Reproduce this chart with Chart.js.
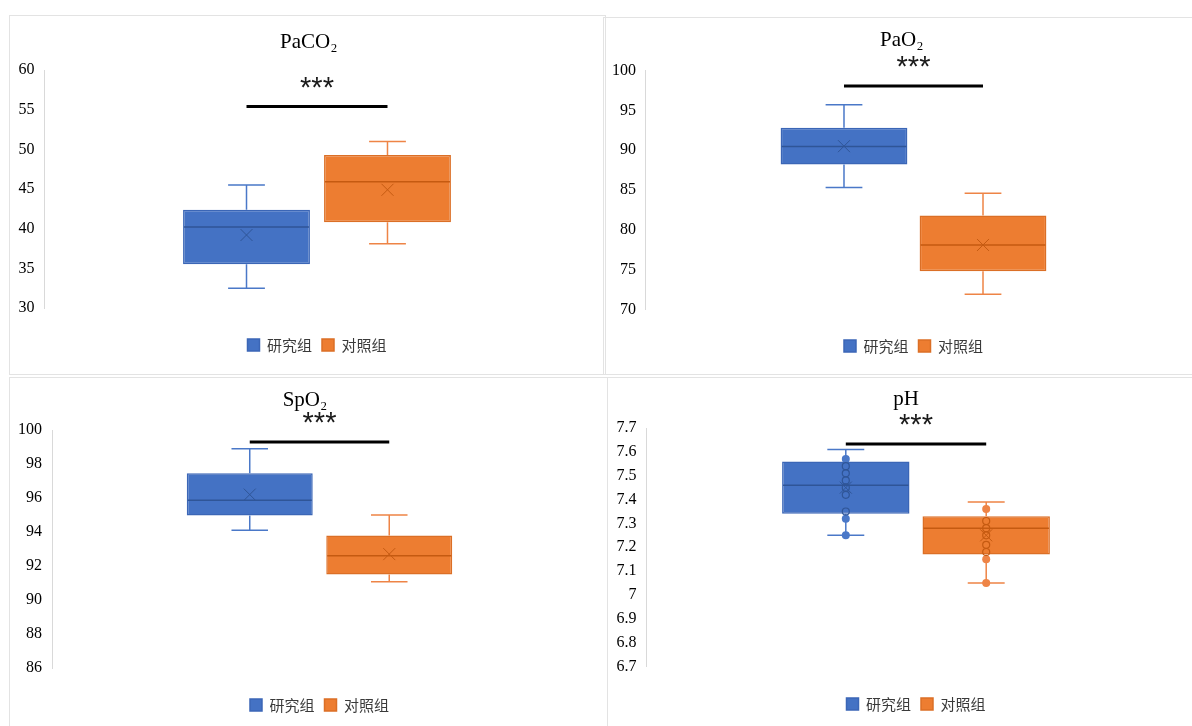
<!DOCTYPE html>
<html><head><meta charset="utf-8">
<script src="https://cdn.jsdelivr.net/npm/chart.js@4.4.1/dist/chart.umd.min.js"></script>
<style>
html,body{margin:0;padding:0;background:#fff;width:1192px;height:726px;overflow:hidden;position:relative}
.panel{position:absolute;border:1px solid #e3e3e3;box-sizing:border-box}
canvas{position:absolute;display:block}
</style></head><body>
<div class="panel" style="left:9px;top:15px;width:597px;height:360px"></div>
<div class="panel" style="left:603px;top:17px;width:591px;height:358px"></div>
<div class="panel" style="left:9px;top:377px;width:599px;height:351px"></div>
<div class="panel" style="left:607px;top:377px;width:588px;height:351px"></div>
<canvas id="c1" width="613" height="357" style="left:10px;top:17px"></canvas>
<canvas id="c2" width="602" height="357" style="left:606px;top:17px"></canvas>
<canvas id="c3" width="610" height="348" style="left:10px;top:378px"></canvas>
<canvas id="c4" width="602" height="348" style="left:608px;top:378px"></canvas>
<script>
// ---------- DATA ----------
const categories = [''];
const groupNames = ['研究组', '对照组'];

// PaCO2
const paco2Min    = [32.5, 38.1];
const paco2Q1     = [35.5, 40.8];
const paco2Median = [40.2, 45.9];
const paco2Q3     = [42.4, 49.3];
const paco2Max    = [45.5, 51.0];
const paco2Mean   = [39.2, 44.9];
const paco2Ticks  = [30, 35, 40, 45, 50, 55, 60];
const paco2Sig    = [55.4, 58.24]; // line value, stars value

// PaO2
const pao2Min    = [85.3, 71.9];
const pao2Q1     = [88.2, 74.8];
const pao2Median = [90.45, 78.1];
const pao2Q3     = [92.8, 81.8];
const pao2Max    = [95.7, 84.6];
const pao2Mean   = [90.5, 78.1];
const pao2Ticks  = [70, 75, 80, 85, 90, 95, 100];
const pao2Sig    = [98.05, 100.93];

// SpO2
const spo2Min    = [94.1, 91.07];
const spo2Q1     = [94.97, 91.5];
const spo2Median = [95.87, 92.6];
const spo2Q3     = [97.45, 93.8];
const spo2Max    = [98.9, 95.0];
const spo2Mean   = [96.2, 92.7];
const spo2Ticks  = [86, 88, 90, 92, 94, 96, 98, 100];
const spo2Sig    = [99.3, 100.63];

// pH
const phMin    = [7.25, 7.05];
const phQ1     = [7.34, 7.17];
const phMedian = [7.46, 7.28];
const phQ3     = [7.56, 7.33];
const phMax    = [7.61, 7.39];
const phMean   = [7.45, 7.25];
const phTicks  = [6.7, 6.8, 6.9, 7.0, 7.1, 7.2, 7.3, 7.4, 7.5, 7.6, 7.7];
const phSig    = [7.633, 7.728];
const phPointsSolidStudy   = [7.57, 7.32, 7.25];
const phPointsHollowStudy  = [7.54, 7.51, 7.48, 7.45, 7.42, 7.35];
const phPointsSolidCtrl    = [7.36, 7.15, 7.05];
const phPointsHollowCtrl   = [7.31, 7.28, 7.25, 7.21, 7.18];

// ---------- STYLE ----------
const fills    = ['#4472C4', '#ED7D31'];
const borders  = ['#3B66B6', '#DB6F26'];
const whiskers = ['#4A78C8', '#EE8446'];
const medians  = ['#2F5597', '#C55A11'];

function makeExtras(s) {
  return {
    id: 'boxExtras',
    afterDatasetsDraw(chart) {
      const ctx = chart.ctx, y = chart.scales.y;
      const px = v => y.getPixelForValue(v);
      ctx.save();
      const xs = [];
      chart.data.datasets.forEach((ds, i) => {
        const bar = chart.getDatasetMeta(i).data[0];
        const x = bar.x, half = bar.width / 2, cap = bar.width * 0.145;
        xs.push(x);
        ctx.strokeStyle = whiskers[i];
        ctx.lineWidth = 1.5;
        ctx.beginPath();
        ctx.moveTo(x, px(s.q3[i])); ctx.lineTo(x, px(s.max[i]));
        ctx.moveTo(x, px(s.q1[i])); ctx.lineTo(x, px(s.min[i]));
        ctx.moveTo(x - cap, px(s.max[i])); ctx.lineTo(x + cap, px(s.max[i]));
        ctx.moveTo(x - cap, px(s.min[i])); ctx.lineTo(x + cap, px(s.min[i]));
        ctx.stroke();
        // median
        ctx.strokeStyle = medians[i];
        ctx.lineWidth = 1.5;
        ctx.beginPath();
        ctx.moveTo(x - half + 1, px(s.median[i])); ctx.lineTo(x + half - 1, px(s.median[i]));
        ctx.stroke();
        // mean marker
        const m = 6, pm = px(s.mean[i]);
        ctx.lineWidth = 1;
        ctx.beginPath();
        ctx.moveTo(x - m, pm - m); ctx.lineTo(x + m, pm + m);
        ctx.moveTo(x + m, pm - m); ctx.lineTo(x - m, pm + m);
        ctx.stroke();
        // inner points
        if (s.solid) {
          ctx.fillStyle = whiskers[i];
          s.solid[i].forEach(v => { ctx.beginPath(); ctx.arc(x, px(v), 4, 0, Math.PI * 2); ctx.fill(); });
          ctx.strokeStyle = medians[i];
          ctx.lineWidth = 1.2;
          s.hollow[i].forEach(v => { ctx.beginPath(); ctx.arc(x, px(v), 3.5, 0, Math.PI * 2); ctx.stroke(); });
        }
      });
      // significance bar
      const ly = px(s.sig[0]);
      ctx.strokeStyle = '#000';
      ctx.lineWidth = 3;
      ctx.beginPath(); ctx.moveTo(xs[0], ly); ctx.lineTo(xs[1], ly); ctx.stroke();
      ctx.fillStyle = '#1a1a1a';
      ctx.font = '29px "Liberation Sans", Arial, sans-serif';
      ctx.textAlign = 'center';
      ctx.textBaseline = 'alphabetic';
      ctx.fillText('***', (xs[0] + xs[1]) / 2, px(s.sig[1]) + 13);
      ctx.restore();
    }
  };
}

function build(id, title, s, ticks, L) {
  const step = Math.round((ticks[1] - ticks[0]) * 1000) / 1000;
  new Chart(document.getElementById(id), {
    type: 'bar',
    data: {
      labels: categories,
      datasets: groupNames.map((g, i) => ({
        label: g,
        data: [[s.q1[i], s.q3[i]]],
        backgroundColor: fills[i],
        borderColor: borders[i],
        borderWidth: 1.5,
        borderSkipped: false,
        categoryPercentage: L.cat,
        barPercentage: L.bar
      }))
    },
    options: {
      responsive: false,
      animation: false,
      devicePixelRatio: 1,
      layout: { padding: { left: 0, right: L.right, top: 0, bottom: L.bottom } },
      scales: {
        x: {
          display: true,
          grid: { display: false, drawTicks: false },
          border: { display: false },
          ticks: { display: false },
          afterFit(sc) { sc.height = L.gap; }
        },
        y: {
          min: ticks[0], max: ticks[ticks.length - 1],
          afterFit(sc) { sc.width = L.axis; },
          afterBuildTicks(sc) { sc.ticks = ticks.map(v => ({ value: v })); },
          grid: { display: false, drawTicks: false },
          border: { display: true, color: '#d9d9d9', width: 1 },
          ticks: {
            stepSize: step, autoSkip: false, padding: L.tpad, color: '#000',
            font: { family: '"Liberation Serif", "Times New Roman", serif', size: 16 },
            callback: v => String(Math.round(v * 10) / 10)
          }
        },
        yRightSpace: {
          type: 'linear', axis: 'y', position: 'right', display: true,
          min: ticks[0], max: ticks[ticks.length - 1],
          grid: { display: false, drawTicks: false },
          border: { display: false },
          ticks: { display: false },
          afterFit(sc) { sc.width = L.shift; }
        }
      },
      plugins: {
        tooltip: { enabled: false },
        title: {
          display: true, text: title, color: '#000',
          font: { family: '"Liberation Serif", "Times New Roman", serif', size: 21, weight: 'normal' },
          padding: { top: L.tTop, bottom: L.tBottom }
        },
        legend: {
          position: 'bottom', fullSize: false,
          labels: {
            color: '#3a3a3a', boxWidth: 12, boxHeight: 12, padding: 10,
            font: { family: '"Noto Sans CJK SC", sans-serif', size: 15 }
          }
        }
      }
    },
    plugins: [makeExtras(s)]
  });
}

build('c1', 'PaCO₂',
  { min: paco2Min, q1: paco2Q1, median: paco2Median, q3: paco2Q3, max: paco2Max, mean: paco2Mean, sig: paco2Sig },
  paco2Ticks, { axis: 34.5, shift: 18, right: 15.5, bottom: 11.5, gap: 19.5, tTop: 12.4, tBottom: 15.4, cat: 0.5174, bar: 0.9, tpad: 10 });

build('c2', 'PaO₂',
  { min: pao2Min, q1: pao2Q1, median: pao2Median, q3: pao2Q3, max: pao2Max, mean: pao2Mean, sig: pao2Sig },
  pao2Ticks, { axis: 39.5, shift: 16, right: 10.5, bottom: 10.5, gap: 19, tTop: 10.4, tBottom: 17.9, cat: 0.5187, bar: 0.912, tpad: 9.5 });

build('c3', 'SpO₂',
  { min: spo2Min, q1: spo2Q1, median: spo2Median, q3: spo2Q3, max: spo2Max, mean: spo2Mean, sig: spo2Sig },
  spo2Ticks, { axis: 42, shift: 13, right: 20, bottom: 3.5, gap: 19.5, tTop: 10.1, tBottom: 16.7, cat: 0.5215, bar: 0.903, tpad: 10 });

build('c4', 'pH',
  { min: phMin, q1: phQ1, median: phMedian, q3: phQ3, max: phMax, mean: phMean, sig: phSig,
    solid: [phPointsSolidStudy, phPointsSolidCtrl], hollow: [phPointsHollowStudy, phPointsHollowCtrl] },
  phTicks, { axis: 38, shift: 18, right: 6, bottom: 4.5, gap: 20, tTop: 8.4, tBottom: 16.4, cat: 0.52, bar: 0.9075, tpad: 9.5 });
</script>
</body></html>
